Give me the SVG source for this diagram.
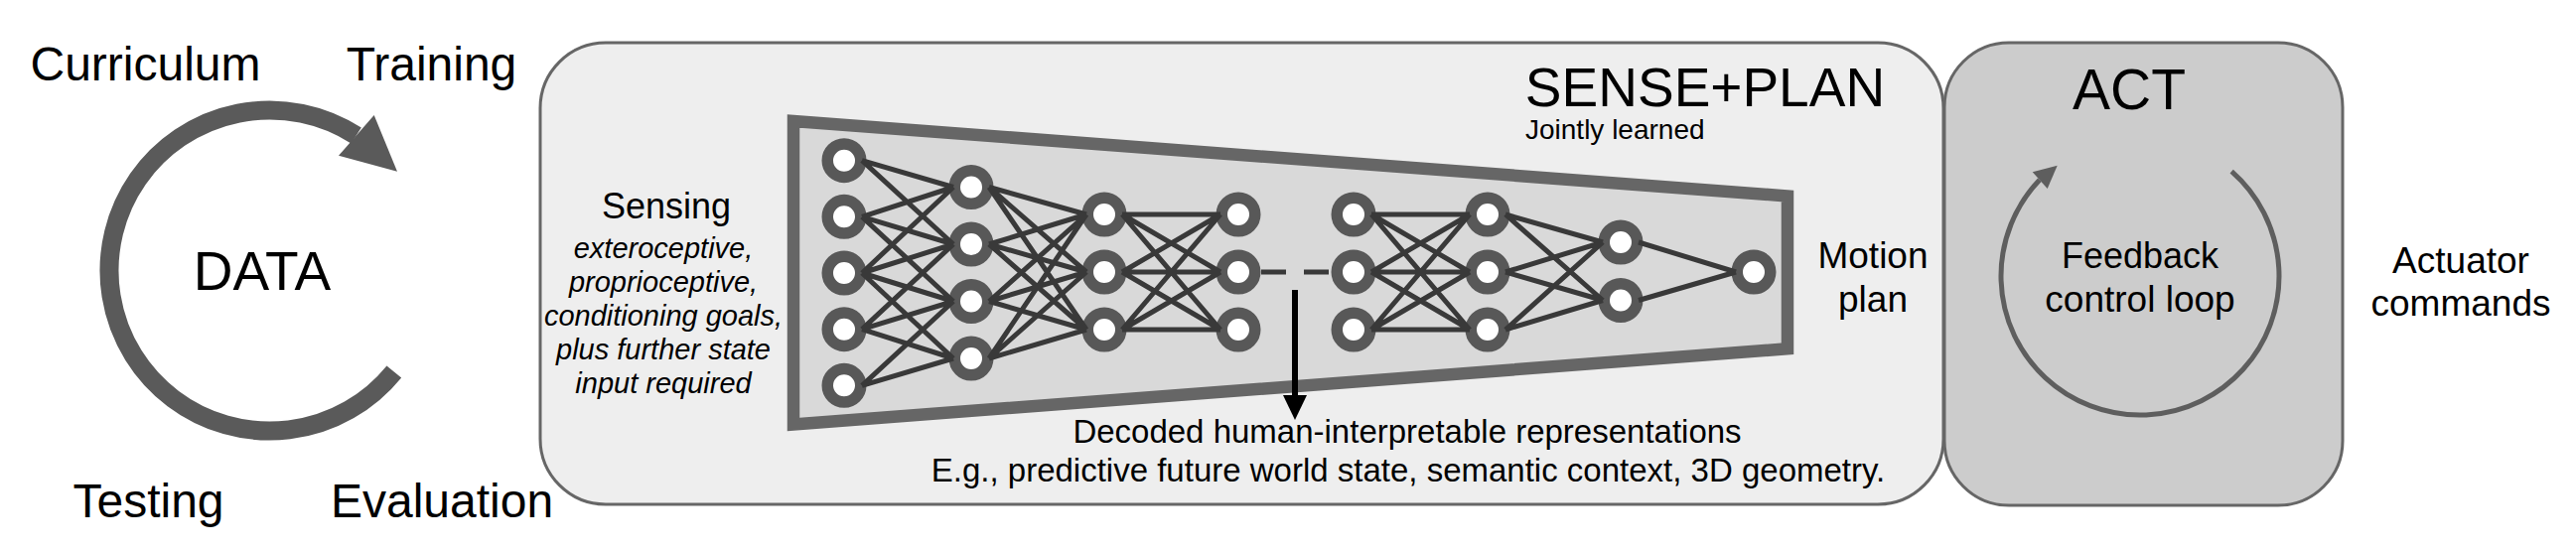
<svg xmlns="http://www.w3.org/2000/svg" width="2594" height="555" viewBox="0 0 2594 555">
<style>
text{font-family:"Liberation Sans",Arial,sans-serif;fill:#000}
.big{font-size:48px}
.box{stroke:#666;stroke-width:3}
.node{fill:#fff;stroke:#585858;stroke-width:11.5}
.edge{fill:none;stroke:#393939;stroke-width:5}
.it{font-size:29px;font-style:italic}
.mid{text-anchor:middle}
</style>
<rect width="2594" height="555" fill="#fff"/>

<g id="data-cycle">
<path d="M396.8 374.4 A161.5 161.5 0 1 1 358.7 136.6" fill="none" stroke="#5a5a5a" stroke-width="19"/>
<polygon points="341,156.7 376.7,116 400,172.7" fill="#5a5a5a"/>
<text class="big" x="146.5" y="81" text-anchor="middle">Curriculum</text>
<text class="big" x="434.5" y="81" text-anchor="middle">Training</text>
<text class="big" x="149.5" y="521" text-anchor="middle">Testing</text>
<text class="big" x="445" y="521" text-anchor="middle">Evaluation</text>
<text x="264" y="292" font-size="55" text-anchor="middle">DATA</text>
</g>

<g id="sense-plan">
<rect class="box" x="544" y="43" width="1413" height="465" rx="66" fill="#eeeeee"/>
<text x="1717" y="107" font-size="55" text-anchor="middle">SENSE+PLAN</text>
<text x="1536" y="140" font-size="28">Jointly learned</text>
<text x="671" y="220" font-size="36" text-anchor="middle">Sensing</text>
<text class="it mid" x="668" y="260">exteroceptive,</text>
<text class="it mid" x="668" y="294">proprioceptive,</text>
<text class="it mid" x="668" y="328">conditioning goals,</text>
<text class="it mid" x="668" y="362">plus further state</text>
<text class="it mid" x="668" y="396">input required</text>
<text x="1886" y="270" font-size="37" text-anchor="middle">Motion</text>
<text x="1886" y="314" font-size="37" text-anchor="middle">plan</text>
<text x="1417" y="446" font-size="33" text-anchor="middle">Decoded human-interpretable representations</text>
<text x="1418" y="485" font-size="33" text-anchor="middle">E.g., predictive future world state, semantic context, 3D geometry.</text>
</g>

<g id="network">
<polygon points="799,122 1800,197.5 1800,351.3 799,427.5" fill="#d9d9d9" stroke="#666" stroke-width="12.5" stroke-linejoin="miter"/>
<g id="nn-nodes">
<circle class="node" cx="850" cy="161.7" r="16.75"/>
<circle class="node" cx="850" cy="218.3" r="16.75"/>
<circle class="node" cx="850" cy="275" r="16.75"/>
<circle class="node" cx="850" cy="331.7" r="16.75"/>
<circle class="node" cx="850" cy="388.3" r="16.75"/>
<circle class="node" cx="978" cy="188.5" r="16.75"/>
<circle class="node" cx="978" cy="246" r="16.75"/>
<circle class="node" cx="978" cy="303.5" r="16.75"/>
<circle class="node" cx="978" cy="361" r="16.75"/>
<circle class="node" cx="1112" cy="216" r="16.75"/>
<circle class="node" cx="1112" cy="274" r="16.75"/>
<circle class="node" cx="1112" cy="332" r="16.75"/>
<circle class="node" cx="1247" cy="216" r="16.75"/>
<circle class="node" cx="1247" cy="274" r="16.75"/>
<circle class="node" cx="1247" cy="332" r="16.75"/>
<circle class="node" cx="1363" cy="216" r="16.75"/>
<circle class="node" cx="1363" cy="274" r="16.75"/>
<circle class="node" cx="1363" cy="332" r="16.75"/>
<circle class="node" cx="1498" cy="216" r="16.75"/>
<circle class="node" cx="1498" cy="274" r="16.75"/>
<circle class="node" cx="1498" cy="332" r="16.75"/>
<circle class="node" cx="1632" cy="244" r="16.75"/>
<circle class="node" cx="1632" cy="302.5" r="16.75"/>
<circle class="node" cx="1766" cy="274" r="16.75"/>
</g>
</g>

<g id="connectors">
<path class="edge" d="M868 161.7L960 188.5 M868 161.7L960 246 M868 218.3L960 188.5 M868 218.3L960 246 M868 218.3L960 303.5 M868 275L960 188.5 M868 275L960 246 M868 275L960 303.5 M868 275L960 361 M868 331.7L960 246 M868 331.7L960 303.5 M868 331.7L960 361 M868 388.3L960 303.5 M868 388.3L960 361"/>
<path class="edge" d="M996 188.5L1094 216 M996 188.5L1094 274 M996 188.5L1094 332 M996 246L1094 216 M996 246L1094 274 M996 246L1094 332 M996 303.5L1094 216 M996 303.5L1094 274 M996 303.5L1094 332 M996 361L1094 216 M996 361L1094 274 M996 361L1094 332"/>
<path class="edge" d="M1130 216L1229 216 M1130 216L1229 274 M1130 216L1229 332 M1130 274L1229 216 M1130 274L1229 274 M1130 274L1229 332 M1130 332L1229 216 M1130 332L1229 274 M1130 332L1229 332"/>
<path class="edge" d="M1270 274L1295 274 M1313 274L1338 274" stroke-width="6"/>
<path class="edge" d="M1381 216L1480 216 M1381 216L1480 274 M1381 216L1480 332 M1381 274L1480 216 M1381 274L1480 274 M1381 274L1480 332 M1381 332L1480 216 M1381 332L1480 274 M1381 332L1480 332"/>
<path class="edge" d="M1516 216L1614 244 M1516 216L1614 302.5 M1516 274L1614 244 M1516 274L1614 302.5 M1516 332L1614 244 M1516 332L1614 302.5"/>
<path class="edge" d="M1650 244L1748 274 M1650 302.5L1748 274"/>
<line x1="1304" y1="292" x2="1304" y2="400" stroke="#000" stroke-width="6"/>
<polygon points="1292,398 1316,398 1304,423" fill="#000"/>
</g>

<g id="act">
<rect class="box" x="1958" y="43" width="401" height="466" rx="65" fill="#cccccc"/>
<text x="2144" y="110" font-size="57" text-anchor="middle">ACT</text>
<path d="M2247.2 172.7 A140 140 0 1 1 2053.8 181.3" fill="none" stroke="#5e5e5e" stroke-width="5"/>
<polygon points="2071.7,166.7 2046.7,173.3 2061.7,190" fill="#5e5e5e"/>
<text x="2155" y="270" font-size="36" text-anchor="middle">Feedback</text>
<text x="2155" y="314" font-size="37" text-anchor="middle">control loop</text>
</g>

<g id="actuator-commands">
<text x="2478" y="275" font-size="37" text-anchor="middle">Actuator</text>
<text x="2478" y="318" font-size="37" text-anchor="middle">commands</text>
</g>
</svg>
